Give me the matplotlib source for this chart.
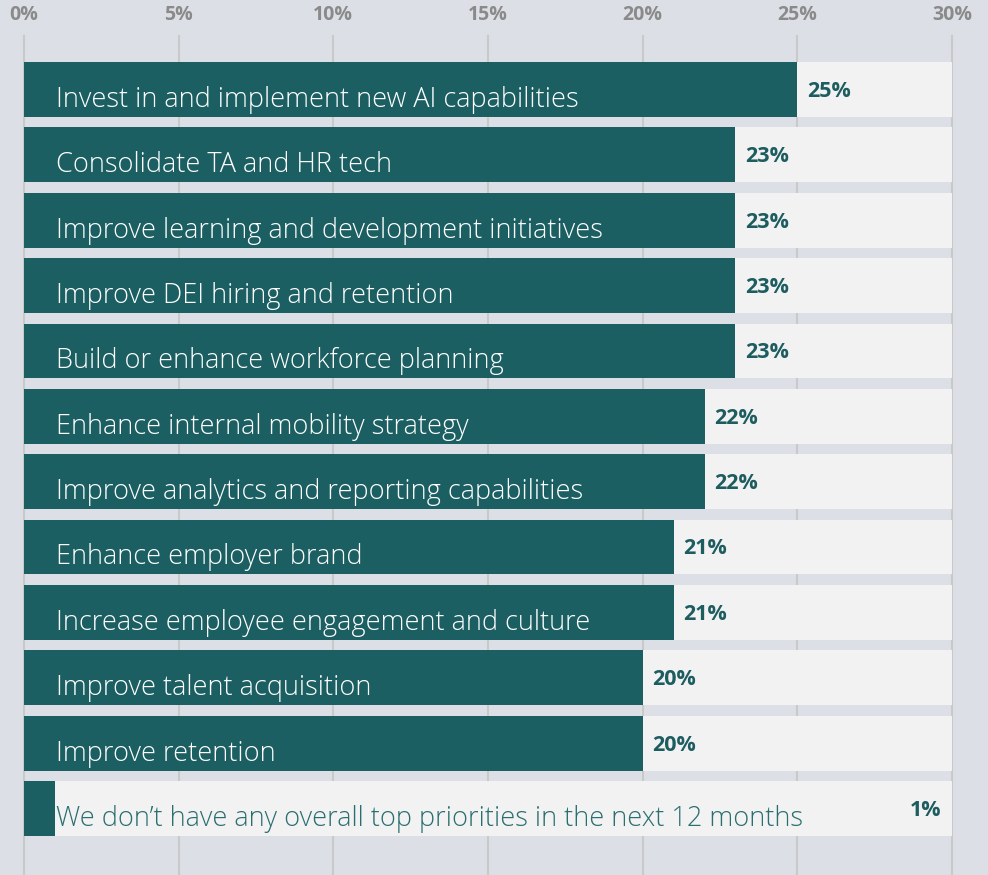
import matplotlib
matplotlib.use("Agg")
import matplotlib.pyplot as plt

# top HR priorities for the next 12 months, share of respondents (%)
priorities = [
    "Invest in and implement new AI capabilities",
    "Consolidate TA and HR tech",
    "Improve learning and development initiatives",
    "Improve DEI hiring and retention",
    "Build or enhance workforce planning",
    "Enhance internal mobility strategy",
    "Improve analytics and reporting capabilities",
    "Enhance employer brand",
    "Increase employee engagement and culture",
    "Improve talent acquisition",
    "Improve retention",
    "We don\u2019t have any overall top priorities in the next 12 months",
]
shares = [25, 23, 23, 23, 23, 22, 22, 21, 21, 20, 20, 1]
xticks = [0, 5, 10, 15, 20, 25, 30]

BG = "#dcdfe6"
TEAL = "#1b5f62"
TRACK = "#f2f2f2"
GRID = "#c9c9c9"

plt.rcParams["font.family"] = ["Open Sans", "DejaVu Sans"]

fig = plt.figure(figsize=(9.88, 8.75), dpi=100)
fig.patch.set_facecolor(BG)
ax = fig.add_axes([24 / 988, 0, 928 / 988, 839 / 875])
ax.set_facecolor(BG)

n = len(priorities)
ypos = list(range(n))
ax.barh(ypos, [xticks[-1]] * n, height=0.84, color=TRACK, zorder=2)
ax.barh(ypos, shares, height=0.84, color=TEAL, zorder=3)

ax.set_xlim(0, 30)
ax.set_ylim(12.018, -0.819)

ax.xaxis.tick_top()
ax.set_xticks(xticks)
ax.set_xticklabels([f"{t}%" for t in xticks])
ax.tick_params(axis="x", length=0, pad=8, labelsize=14, labelcolor="#8a8a8a")
for lbl in ax.get_xticklabels():
    lbl.set_fontweight("bold")
ax.set_yticks([])
ax.grid(axis="x", color=GRID, linewidth=1.5, zorder=1)
for line in ax.get_xgridlines():
    line.set_clip_on(False)
for s in ax.spines.values():
    s.set_visible(False)

for i, (name, v) in enumerate(zip(priorities, shares)):
    inside = v > 5
    ax.text(1.035, i + 0.267, name, fontsize=19.5, fontweight="light",
            color="white" if inside else "#2a6e70", va="baseline", zorder=4)
    if inside:
        ax.text(v + 0.32, i + 0.03, f"{v}%", fontsize=15.5, fontweight="bold",
                color="#1d5c5f", va="center", ha="left", zorder=4)
    else:
        ax.text(29.65, i + 0.03, f"{v}%", fontsize=15.5, fontweight="bold",
                color="#1d5c5f", va="center", ha="right", zorder=4)

fig.savefig("out.png", dpi=100, facecolor=BG)
